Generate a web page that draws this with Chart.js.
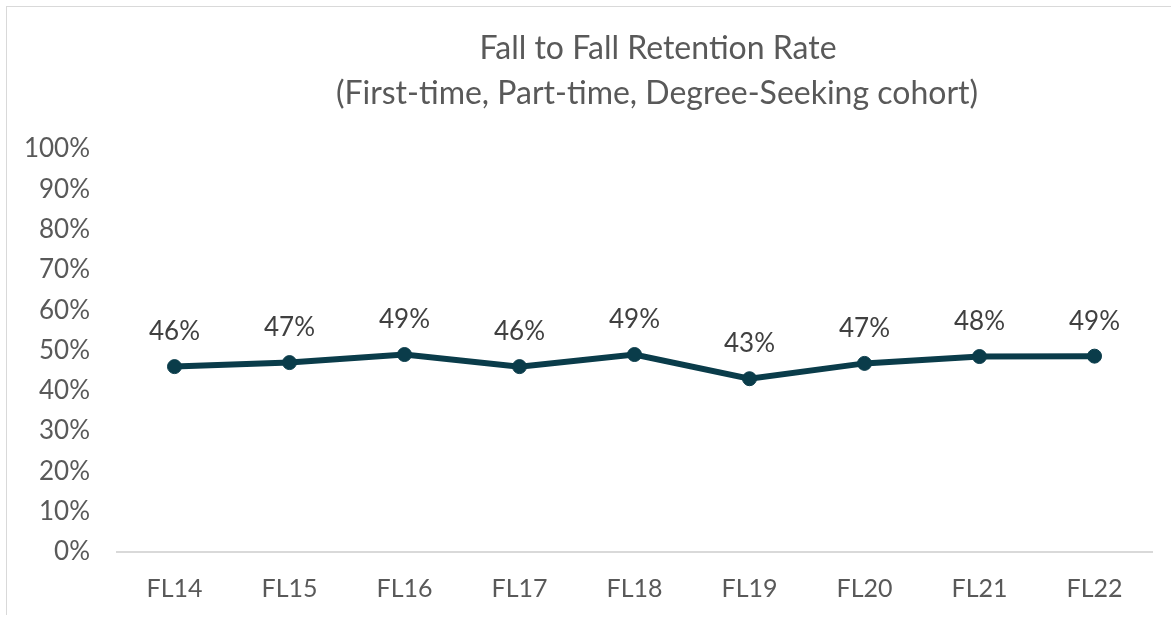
<!DOCTYPE html>
<html>
<head>
<meta charset="utf-8">
<script src="https://cdn.jsdelivr.net/npm/chart.js@4/dist/chart.umd.min.js"></script>
<style>
  html, body { margin: 0; padding: 0; background: #fff; }
  #wrap { position: relative; width: 1171px; height: 620px; overflow: hidden; }
  #frame { position: absolute; left: 6px; top: 6px; width: 1200px; height: 608px;
           border-top: 1px solid #d9d9d9; border-left: 1px solid #d9d9d9; }
  canvas { position: absolute; left: 0; top: 0; }
</style>
</head>
<body>
<div id="wrap">
  <div id="frame"></div>
  <canvas id="retentionChart" width="1171" height="620"></canvas>
</div>
<script>
var categories = ['FL14', 'FL15', 'FL16', 'FL17', 'FL18', 'FL19', 'FL20', 'FL21', 'FL22'];
var retention  = [46, 47, 49, 46, 49, 43, 46.8, 48.5, 48.6];
var labelText  = ['46%', '47%', '49%', '46%', '49%', '43%', '47%', '48%', '49%'];
var titleLines = ['Fall to Fall Retention Rate', '(First-time, Part-time, Degree-Seeking cohort)'];

var FONT = 'Lato, "Open Sans", sans-serif';
var TEXT = '#595959';
var LINE = '#0a3c4a';

// two-line title, centred where the original sits
var titlePlugin = {
    id: 'titleText',
    afterDraw: function (chart) {
        var ctx = chart.ctx;
        ctx.save();
        ctx.fillStyle = TEXT;
        ctx.font = '32px ' + FONT;
        ctx.textAlign = 'center';
        ctx.textBaseline = 'middle';
        ctx.fillText(titleLines[0], 658, 49);
        ctx.fillText(titleLines[1], 657, 94);
        ctx.restore();
    }
};

var pointLabels = {
    id: 'pointLabels',
    afterDatasetsDraw: function (chart) {
        var ctx = chart.ctx;
        var meta = chart.getDatasetMeta(0);
        ctx.save();
        ctx.fillStyle = '#404040';
        ctx.font = '26px ' + FONT;
        ctx.textAlign = 'center';
        ctx.textBaseline = 'middle';
        meta.data.forEach(function (pt, i) {
            ctx.fillText(labelText[i], pt.x, pt.y - 35);
        });
        ctx.restore();
    }
};

new Chart(document.getElementById('retentionChart'), {
    type: 'line',
    data: {
        labels: categories,
        datasets: [{
            data: retention,
            borderColor: LINE,
            backgroundColor: LINE,
            borderWidth: 6,
            pointRadius: 7,
            pointBorderWidth: 1,
            pointHoverRadius: 7,
            tension: 0
        }]
    },
    options: {
        responsive: false,
        animation: false,
        layout: { padding: { top: 149, left: 0, right: 19, bottom: 0 } },
        plugins: {
            legend: { display: false },
            tooltip: { enabled: false }
        },
        scales: {
            x: {
                offset: true,
                grid: { display: false, drawTicks: false },
                border: { display: true, color: '#d9d9d9', width: 2 },
                ticks: { color: TEXT, font: { family: FONT, size: 25 }, padding: 22 },
                afterFit: function (scale) { scale.height = 68; }
            },
            y: {
                min: 0,
                max: 100,
                grid: { display: false, drawTicks: false },
                border: { display: false },
                ticks: {
                    stepSize: 10,
                    color: TEXT,
                    font: { family: FONT, size: 26 },
                    padding: 27,
                    callback: function (v) { return v + '%'; }
                },
                afterFit: function (scale) { scale.width = 117; }
            }
        }
    },
    plugins: [titlePlugin, pointLabels]
});
</script>
</body>
</html>
